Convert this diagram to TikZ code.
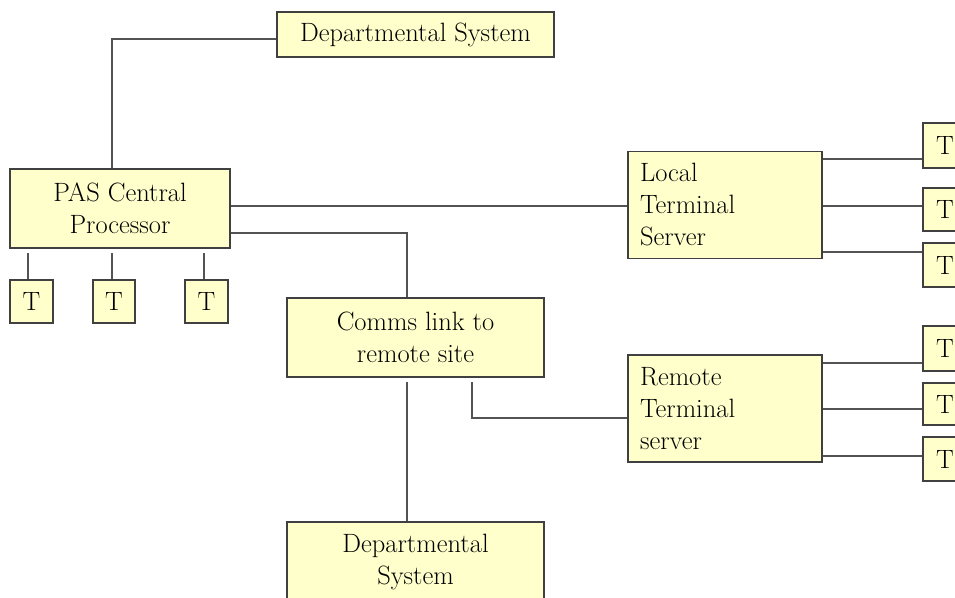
\documentclass[tikz,border=0pt]{standalone}
\definecolor{boxfill}{RGB}{255,255,204}
\definecolor{edge}{RGB}{64,64,64}
\begin{document}
\begin{tikzpicture}[x=1pt,y=-1pt,
  box/.style={draw=edge, line width=1.3pt, fill=boxfill, inner sep=0pt,
    font=\fontsize{26.5}{32}\selectfont, align=center},
  leftbox/.style={box, align=left, text width=170pt, inner xsep=12pt, minimum height=107pt},
  tbox/.style={box, minimum width=44pt, minimum height=44pt},
  wire/.style={draw=edge!90, line width=1.3pt}]
\useasboundingbox (0,0) rectangle (955,597);
\clip (0,0) rectangle (955,597);
\fill[white] (0,0) rectangle (955,597);

% main boxes
\node[box, minimum width=277pt, minimum height=45pt] (dept1) at (415.5,34.5) {Departmental System};
\node[box, minimum width=220pt, minimum height=79pt] (pas) at (120,208.5) {PAS Central\\Processor};
\node[box, minimum width=257pt, minimum height=79pt] (comms) at (415.5,337.5) {Comms link to\\remote site};
\node[box, minimum width=257pt, minimum height=79pt] (dept2) at (415.5,561.5) {Departmental\\System};
\node[leftbox] (local) at (725,205) {Local\\Terminal\\Server};
\node[leftbox] (remote) at (725,408.5) {Remote\\Terminal\\server};

% terminals under the central processor
\node[tbox, minimum width=43pt, minimum height=43pt] (t1) at (31.5,301.5) {T};
\node[tbox, minimum width=42pt, minimum height=43pt] (t2) at (114,301.5) {T};
\node[tbox, minimum width=43pt, minimum height=43pt] (t3) at (206.5,301.5) {T};

% terminals on the local server
\node[tbox, minimum height=45pt] (lt1) at (945,145.5) {T};
\node[tbox, minimum height=43pt] (lt2) at (945,209.5) {T};
\node[tbox] (lt3) at (945,265) {T};

% terminals on the remote server
\node[tbox, minimum height=45pt] (rt1) at (945,348.5) {T};
\node[tbox, minimum height=42pt] (rt2) at (945,404) {T};
\node[tbox] (rt3) at (945,459) {T};

% stub start points
\coordinate (s1) at (28,253);
\coordinate (s2) at (112,253);
\coordinate (s3) at (204,253);
\coordinate (c1) at (407,382);
\coordinate (c2) at (472,382);

% connectors
\draw[wire] ([xshift=-8pt]pas.north) |- ([yshift=-4.5pt]dept1.west);
\draw[wire] ([yshift=2.5pt]pas.east) -- ([yshift=2.5pt]pas.east -| local.west);
\draw[wire] ([yshift=-24.5pt]pas.east) -| ([xshift=-8.5pt]comms.north);
\draw[wire] (s1) -- (s1 |- t1.north);
\draw[wire] (s2) -- (s2 |- t2.north);
\draw[wire] (s3) -- (s3 |- t3.north);
\draw[wire] (c1) -- (c1 |- dept2.north);
\draw[wire] (c2) |- ([yshift=-9.5pt]remote.west);

\draw[wire] ([yshift=46pt]local.east) -- ([yshift=46pt]local.east -| lt1.west);
\draw[wire] ([yshift=-1pt]local.east) -- ([yshift=-1pt]local.east -| lt2.west);
\draw[wire] ([yshift=-47pt]local.east) -- ([yshift=-47pt]local.east -| lt3.west);

\draw[wire] ([yshift=45.5pt]remote.east) -- ([yshift=45.5pt]remote.east -| rt1.west);
\draw[wire] ([yshift=-0.5pt]remote.east) -- ([yshift=-0.5pt]remote.east -| rt2.west);
\draw[wire] ([yshift=-47.5pt]remote.east) -- ([yshift=-47.5pt]remote.east -| rt3.west);
\end{tikzpicture}
\end{document}
